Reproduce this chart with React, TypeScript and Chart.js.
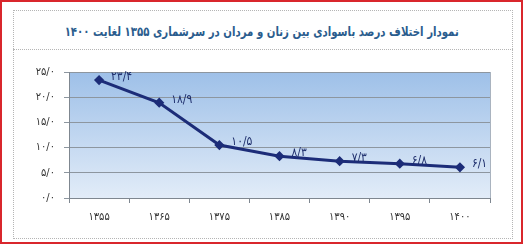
import React, { useEffect, useRef } from "react";
import { Chart, registerables } from "chart.js";

Chart.register(...registerables);

const titleText = "نمودار اختلاف درصد باسوادی بین زنان و مردان در سرشماری ۱۳۵۵ لغایت ۱۴۰۰";
const categories = ["۱۳۵۵", "۱۳۶۵", "۱۳۷۵", "۱۳۸۵", "۱۳۹۰", "۱۳۹۵", "۱۴۰۰"];
const gapValues = [23.4, 18.9, 10.5, 8.3, 7.3, 6.8, 6.1];
const yTicks = [0, 5, 10, 15, 20, 25];

const faDigits = "۰۱۲۳۴۵۶۷۸۹";
const toFa = (s: string) => s.replace(/[0-9]/g, (d) => faDigits[+d]).replace(".", "/");

const FONT = "'DejaVu Sans Condensed', 'DejaVu Sans', sans-serif";

const bgPlugin = {
  id: "bgPlugin",
  beforeDraw(chart: any) {
    const { ctx, chartArea } = chart;
    if (!chartArea) return;
    const g = ctx.createLinearGradient(0, chartArea.top, 0, chartArea.bottom);
    g.addColorStop(0, "#9ec0e8");
    g.addColorStop(1, "#e2ecf8");
    ctx.save();
    ctx.fillStyle = g;
    ctx.fillRect(chartArea.left, chartArea.top, chartArea.right - chartArea.left, chartArea.bottom - chartArea.top);
    ctx.restore();
  },
  afterDraw(chart: any) {
    const { ctx, chartArea } = chart;
    ctx.save();
    ctx.strokeStyle = "#a9b3bf";
    ctx.lineWidth = 1;
    ctx.beginPath();
    ctx.moveTo(chartArea.right + 0.5, chartArea.top);
    ctx.lineTo(chartArea.right + 0.5, chartArea.bottom);
    ctx.stroke();
    ctx.restore();
  },
};

const labelPlugin = {
  id: "labelPlugin",
  afterDatasetsDraw(chart: any) {
    const { ctx } = chart;
    const meta = chart.getDatasetMeta(0);
    ctx.save();
    ctx.fillStyle = "#1d2d6b";
    ctx.font = `12px ${FONT}`;
    ctx.textAlign = "left";
    ctx.textBaseline = "middle";
    meta.data.forEach((pt: any, i: number) => {
      ctx.fillText(toFa(gapValues[i].toFixed(1)), pt.x + 12, pt.y - 3);
    });
    ctx.restore();
  },
};

export default function App() {
  const ref = useRef<HTMLCanvasElement>(null);
  useEffect(() => {
    if (!ref.current) return;
    const chart = new Chart(ref.current, {
      type: "line",
      data: {
        labels: categories,
        datasets: [
          {
            data: gapValues,
            borderColor: "#1c2c78",
            backgroundColor: "#1c2c78",
            borderWidth: 3,
            pointStyle: "rectRot",
            pointRadius: 3,
            tension: 0,
          },
        ],
      },
      options: {
        animation: false,
        responsive: false,
        maintainAspectRatio: false,
        layout: { padding: { top: 72, right: 33, left: 0, bottom: 0 } },
        plugins: { legend: { display: false }, tooltip: { enabled: false }, title: { display: false } },
        scales: {
          x: {
            type: "category",
            offset: true,
            grid: { offset: true, drawOnChartArea: false, tickLength: 5, color: "#7f8790" },
            border: { color: "#7f8790", width: 1 },
            ticks: { color: "#333", font: { family: FONT, size: 11 }, padding: 8, maxRotation: 0 },
            afterFit: (s: any) => { s.height = 46; },
          },
          y: {
            min: 0,
            max: 25,
            afterBuildTicks: (s: any) => { s.ticks = yTicks.map((v) => ({ value: v })); },
            grid: { color: "#8d969f", tickLength: 5, lineWidth: 1 },
            border: { color: "#7f8790", width: 1 },
            ticks: {
              color: "#333",
              font: { family: FONT, size: 11 },
              padding: 9,
              callback: (v: any) => toFa(String(v)) + "/۰",
            },
            afterFit: (s: any) => { s.width = 69; },
          },
        },
      },
      plugins: [bgPlugin, labelPlugin],
    } as any);
    return () => chart.destroy();
  }, []);

  return (
    <div style={{ position: "absolute", left: 0, top: 0, width: 523, height: 244, background: "#fff", overflow: "hidden" }}>
      <div style={{ position: "absolute", left: 0, top: 0, width: 523, height: 244, boxSizing: "border-box", border: "2px solid #d9262c" }} />
      <div style={{ position: "absolute", left: 13, top: 10, width: 500, height: 229, boxSizing: "border-box", border: "1px dotted #b5b5b5" }} />
      <div style={{ position: "absolute", left: 13, top: 49, width: 500, height: 0, borderTop: "1px dotted #b5b5b5" }} />
      <div
        dir="rtl"
        style={{
          position: "absolute",
          left: 0,
          top: 22,
          width: 523,
          textAlign: "center",
          fontFamily: FONT,
          fontWeight: "bold",
          fontSize: 13,
          color: "#2b5d8e",
          lineHeight: "20px",
          whiteSpace: "nowrap",
          transform: "scaleX(0.87)",
          transformOrigin: "263px 50%",
        }}
      >
        {titleText}
      </div>
      <canvas ref={ref} width={523} height={244} style={{ position: "absolute", left: 0, top: 0, width: 523, height: 244 }} />
    </div>
  );
}
